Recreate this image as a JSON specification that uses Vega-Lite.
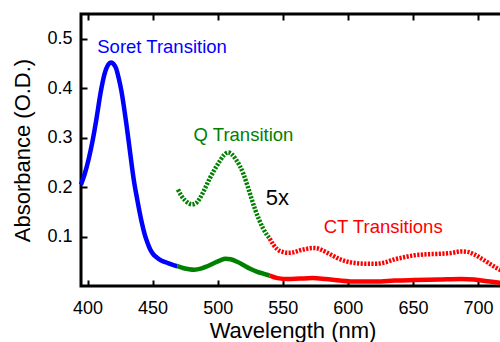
{
  "$schema": "https://vega.github.io/schema/vega-lite/v6.json",
  "width": 423,
  "height": 272,
  "autosize": "none",
  "padding": {"left": 81, "top": 14, "right": 0, "bottom": 56},
  "background": "white",
  "config": {
    "view": {"stroke": "black", "strokeWidth": 3},
    "font": "Liberation Sans",
    "axis": {
      "labelFont": "Liberation Sans",
      "labelFontSize": 18,
      "labelColor": "black",
      "titleFont": "Liberation Sans",
      "titleFontSize": 22,
      "titleFontWeight": "normal",
      "titleColor": "black",
      "tickColor": "black",
      "tickWidth": 2,
      "tickSize": -6,
      "domain": false,
      "grid": false
    }
  },
  "datasets": {
    "spectra": [
      {"wl": 395, "abs": 0.205, "band": "Soret", "mult": "1x"},
      {"wl": 398, "abs": 0.228, "band": "Soret", "mult": "1x"},
      {"wl": 401, "abs": 0.258, "band": "Soret", "mult": "1x"},
      {"wl": 404, "abs": 0.295, "band": "Soret", "mult": "1x"},
      {"wl": 407, "abs": 0.34, "band": "Soret", "mult": "1x"},
      {"wl": 410, "abs": 0.39, "band": "Soret", "mult": "1x"},
      {"wl": 413, "abs": 0.428, "band": "Soret", "mult": "1x"},
      {"wl": 416, "abs": 0.448, "band": "Soret", "mult": "1x"},
      {"wl": 418, "abs": 0.452, "band": "Soret", "mult": "1x"},
      {"wl": 420, "abs": 0.449, "band": "Soret", "mult": "1x"},
      {"wl": 422, "abs": 0.44, "band": "Soret", "mult": "1x"},
      {"wl": 424, "abs": 0.42, "band": "Soret", "mult": "1x"},
      {"wl": 426, "abs": 0.395, "band": "Soret", "mult": "1x"},
      {"wl": 428, "abs": 0.362, "band": "Soret", "mult": "1x"},
      {"wl": 430, "abs": 0.325, "band": "Soret", "mult": "1x"},
      {"wl": 432, "abs": 0.285, "band": "Soret", "mult": "1x"},
      {"wl": 434, "abs": 0.244, "band": "Soret", "mult": "1x"},
      {"wl": 436, "abs": 0.207, "band": "Soret", "mult": "1x"},
      {"wl": 438, "abs": 0.178, "band": "Soret", "mult": "1x"},
      {"wl": 440, "abs": 0.15, "band": "Soret", "mult": "1x"},
      {"wl": 442, "abs": 0.125, "band": "Soret", "mult": "1x"},
      {"wl": 444, "abs": 0.104, "band": "Soret", "mult": "1x"},
      {"wl": 446, "abs": 0.088, "band": "Soret", "mult": "1x"},
      {"wl": 448, "abs": 0.075, "band": "Soret", "mult": "1x"},
      {"wl": 450, "abs": 0.066, "band": "Soret", "mult": "1x"},
      {"wl": 453, "abs": 0.058, "band": "Soret", "mult": "1x"},
      {"wl": 457, "abs": 0.051, "band": "Soret", "mult": "1x"},
      {"wl": 461, "abs": 0.047, "band": "Soret", "mult": "1x"},
      {"wl": 465, "abs": 0.043, "band": "Soret", "mult": "1x"},
      {"wl": 469, "abs": 0.04, "band": "Soret", "mult": "1x"},

      {"wl": 469, "abs": 0.04, "band": "Q", "mult": "1x"},
      {"wl": 474, "abs": 0.036, "band": "Q", "mult": "1x"},
      {"wl": 478, "abs": 0.034, "band": "Q", "mult": "1x"},
      {"wl": 482, "abs": 0.033, "band": "Q", "mult": "1x"},
      {"wl": 487, "abs": 0.035, "band": "Q", "mult": "1x"},
      {"wl": 492, "abs": 0.04, "band": "Q", "mult": "1x"},
      {"wl": 497, "abs": 0.046, "band": "Q", "mult": "1x"},
      {"wl": 502, "abs": 0.052, "band": "Q", "mult": "1x"},
      {"wl": 506, "abs": 0.055, "band": "Q", "mult": "1x"},
      {"wl": 510, "abs": 0.054, "band": "Q", "mult": "1x"},
      {"wl": 515, "abs": 0.049, "band": "Q", "mult": "1x"},
      {"wl": 520, "abs": 0.042, "band": "Q", "mult": "1x"},
      {"wl": 525, "abs": 0.035, "band": "Q", "mult": "1x"},
      {"wl": 530, "abs": 0.029, "band": "Q", "mult": "1x"},
      {"wl": 535, "abs": 0.025, "band": "Q", "mult": "1x"},
      {"wl": 540, "abs": 0.021, "band": "Q", "mult": "1x"},

      {"wl": 540, "abs": 0.021, "band": "CT", "mult": "1x"},
      {"wl": 546, "abs": 0.016, "band": "CT", "mult": "1x"},
      {"wl": 554, "abs": 0.014, "band": "CT", "mult": "1x"},
      {"wl": 563, "abs": 0.015, "band": "CT", "mult": "1x"},
      {"wl": 573, "abs": 0.016, "band": "CT", "mult": "1x"},
      {"wl": 583, "abs": 0.014, "band": "CT", "mult": "1x"},
      {"wl": 594, "abs": 0.011, "band": "CT", "mult": "1x"},
      {"wl": 607, "abs": 0.009, "band": "CT", "mult": "1x"},
      {"wl": 622, "abs": 0.009, "band": "CT", "mult": "1x"},
      {"wl": 636, "abs": 0.011, "band": "CT", "mult": "1x"},
      {"wl": 651, "abs": 0.012, "band": "CT", "mult": "1x"},
      {"wl": 670, "abs": 0.013, "band": "CT", "mult": "1x"},
      {"wl": 687, "abs": 0.014, "band": "CT", "mult": "1x"},
      {"wl": 697, "abs": 0.013, "band": "CT", "mult": "1x"},
      {"wl": 709, "abs": 0.009, "band": "CT", "mult": "1x"},
      {"wl": 720, "abs": 0.006, "band": "CT", "mult": "1x"},

      {"wl": 469.5, "abs": 0.195, "band": "Q", "mult": "5x"},
      {"wl": 472, "abs": 0.183, "band": "Q", "mult": "5x"},
      {"wl": 475, "abs": 0.173, "band": "Q", "mult": "5x"},
      {"wl": 478, "abs": 0.167, "band": "Q", "mult": "5x"},
      {"wl": 480, "abs": 0.165, "band": "Q", "mult": "5x"},
      {"wl": 483, "abs": 0.167, "band": "Q", "mult": "5x"},
      {"wl": 486, "abs": 0.176, "band": "Q", "mult": "5x"},
      {"wl": 490, "abs": 0.196, "band": "Q", "mult": "5x"},
      {"wl": 494, "abs": 0.218, "band": "Q", "mult": "5x"},
      {"wl": 498, "abs": 0.237, "band": "Q", "mult": "5x"},
      {"wl": 502, "abs": 0.254, "band": "Q", "mult": "5x"},
      {"wl": 505, "abs": 0.265, "band": "Q", "mult": "5x"},
      {"wl": 508, "abs": 0.27, "band": "Q", "mult": "5x"},
      {"wl": 511, "abs": 0.266, "band": "Q", "mult": "5x"},
      {"wl": 514, "abs": 0.256, "band": "Q", "mult": "5x"},
      {"wl": 517, "abs": 0.243, "band": "Q", "mult": "5x"},
      {"wl": 520, "abs": 0.225, "band": "Q", "mult": "5x"},
      {"wl": 523, "abs": 0.202, "band": "Q", "mult": "5x"},
      {"wl": 526, "abs": 0.177, "band": "Q", "mult": "5x"},
      {"wl": 529, "abs": 0.153, "band": "Q", "mult": "5x"},
      {"wl": 532, "abs": 0.133, "band": "Q", "mult": "5x"},
      {"wl": 535, "abs": 0.116, "band": "Q", "mult": "5x"},
      {"wl": 538, "abs": 0.103, "band": "Q", "mult": "5x"},
      {"wl": 540, "abs": 0.096, "band": "Q", "mult": "5x"},

      {"wl": 540, "abs": 0.096, "band": "CT", "mult": "5x"},
      {"wl": 543, "abs": 0.083, "band": "CT", "mult": "5x"},
      {"wl": 546, "abs": 0.074, "band": "CT", "mult": "5x"},
      {"wl": 550, "abs": 0.069, "band": "CT", "mult": "5x"},
      {"wl": 554, "abs": 0.067, "band": "CT", "mult": "5x"},
      {"wl": 558, "abs": 0.068, "band": "CT", "mult": "5x"},
      {"wl": 563, "abs": 0.072, "band": "CT", "mult": "5x"},
      {"wl": 568, "abs": 0.075, "band": "CT", "mult": "5x"},
      {"wl": 573, "abs": 0.077, "band": "CT", "mult": "5x"},
      {"wl": 578, "abs": 0.075, "band": "CT", "mult": "5x"},
      {"wl": 583, "abs": 0.069, "band": "CT", "mult": "5x"},
      {"wl": 588, "abs": 0.062, "band": "CT", "mult": "5x"},
      {"wl": 594, "abs": 0.054, "band": "CT", "mult": "5x"},
      {"wl": 600, "abs": 0.049, "band": "CT", "mult": "5x"},
      {"wl": 607, "abs": 0.046, "band": "CT", "mult": "5x"},
      {"wl": 614, "abs": 0.045, "band": "CT", "mult": "5x"},
      {"wl": 622, "abs": 0.045, "band": "CT", "mult": "5x"},
      {"wl": 629, "abs": 0.048, "band": "CT", "mult": "5x"},
      {"wl": 636, "abs": 0.054, "band": "CT", "mult": "5x"},
      {"wl": 643, "abs": 0.058, "band": "CT", "mult": "5x"},
      {"wl": 651, "abs": 0.062, "band": "CT", "mult": "5x"},
      {"wl": 660, "abs": 0.064, "band": "CT", "mult": "5x"},
      {"wl": 670, "abs": 0.065, "band": "CT", "mult": "5x"},
      {"wl": 680, "abs": 0.067, "band": "CT", "mult": "5x"},
      {"wl": 687, "abs": 0.07, "band": "CT", "mult": "5x"},
      {"wl": 692, "abs": 0.069, "band": "CT", "mult": "5x"},
      {"wl": 697, "abs": 0.064, "band": "CT", "mult": "5x"},
      {"wl": 703, "abs": 0.055, "band": "CT", "mult": "5x"},
      {"wl": 709, "abs": 0.045, "band": "CT", "mult": "5x"},
      {"wl": 714, "abs": 0.037, "band": "CT", "mult": "5x"},
      {"wl": 720, "abs": 0.029, "band": "CT", "mult": "5x"}
    ],
    "labels": [
      {"label": "Soret Transition", "wl": 407.5, "abs": 0.484, "band": "Soret"},
      {"label": "Q Transition", "wl": 481.5, "abs": 0.306, "band": "Q"},
      {"label": "CT Transitions", "wl": 581.5, "abs": 0.12, "band": "CT"}
    ],
    "note": [
      {"label": "5x", "wl": 537, "abs": 0.177}
    ]
  },
  "resolve": {"axis": {"x": "independent"}},
  "layer": [
    {
      "data": {"name": "spectra"},
      "transform": [{"filter": "datum.mult === '1x'"}],
      "mark": {"type": "line", "strokeWidth": 4.5, "interpolate": "monotone", "strokeCap": "butt"},
      "encoding": {
        "x": {"field": "wl", "type": "quantitative",
              "scale": {"domain": [395, 720], "nice": false, "zero": false},
              "axis": {"orient": "bottom", "values": [400, 450, 500, 550, 600, 650, 700], "title": "Wavelength (nm)", "labelPadding": 19, "titlePadding": 3}},
        "y": {"field": "abs", "type": "quantitative",
              "scale": {"domain": [0, 0.55], "nice": false},
              "axis": {"values": [0.1, 0.2, 0.3, 0.4, 0.5], "format": ".1f", "title": "Absorbance (O.D.)", "labelPadding": 15, "titlePadding": 12}},
        "color": {"field": "band", "type": "nominal", "legend": null,
                  "scale": {"domain": ["Soret", "Q", "CT"], "range": ["#0000ff", "#008000", "#ff0000"]}},
        "detail": {"field": "band"}
      }
    },
    {
      "data": {"name": "spectra"},
      "transform": [{"filter": "datum.mult === '5x'"}],
      "mark": {"type": "line", "strokeWidth": 4.5, "interpolate": "monotone", "strokeDash": [2.2, 1.4], "strokeCap": "butt"},
      "encoding": {
        "x": {"field": "wl", "type": "quantitative",
              "axis": {"orient": "top", "values": [400, 450, 500, 550, 600, 650, 700], "labels": false, "title": null}},
        "y": {"field": "abs", "type": "quantitative"},
        "color": {"field": "band", "type": "nominal", "legend": null},
        "detail": {"field": "band"}
      }
    },
    {
      "data": {"name": "labels"},
      "mark": {"type": "text", "align": "left", "baseline": "middle", "fontSize": 18.5, "font": "Liberation Sans"},
      "encoding": {
        "x": {"field": "wl", "type": "quantitative", "axis": null},
        "y": {"field": "abs", "type": "quantitative"},
        "text": {"field": "label"},
        "color": {"field": "band", "type": "nominal", "legend": null}
      }
    },
    {
      "data": {"name": "note"},
      "mark": {"type": "text", "align": "left", "baseline": "middle", "fontSize": 22, "font": "Liberation Sans", "color": "black"},
      "encoding": {
        "x": {"field": "wl", "type": "quantitative", "axis": null},
        "y": {"field": "abs", "type": "quantitative"},
        "text": {"field": "label"}
      }
    }
  ]
}
